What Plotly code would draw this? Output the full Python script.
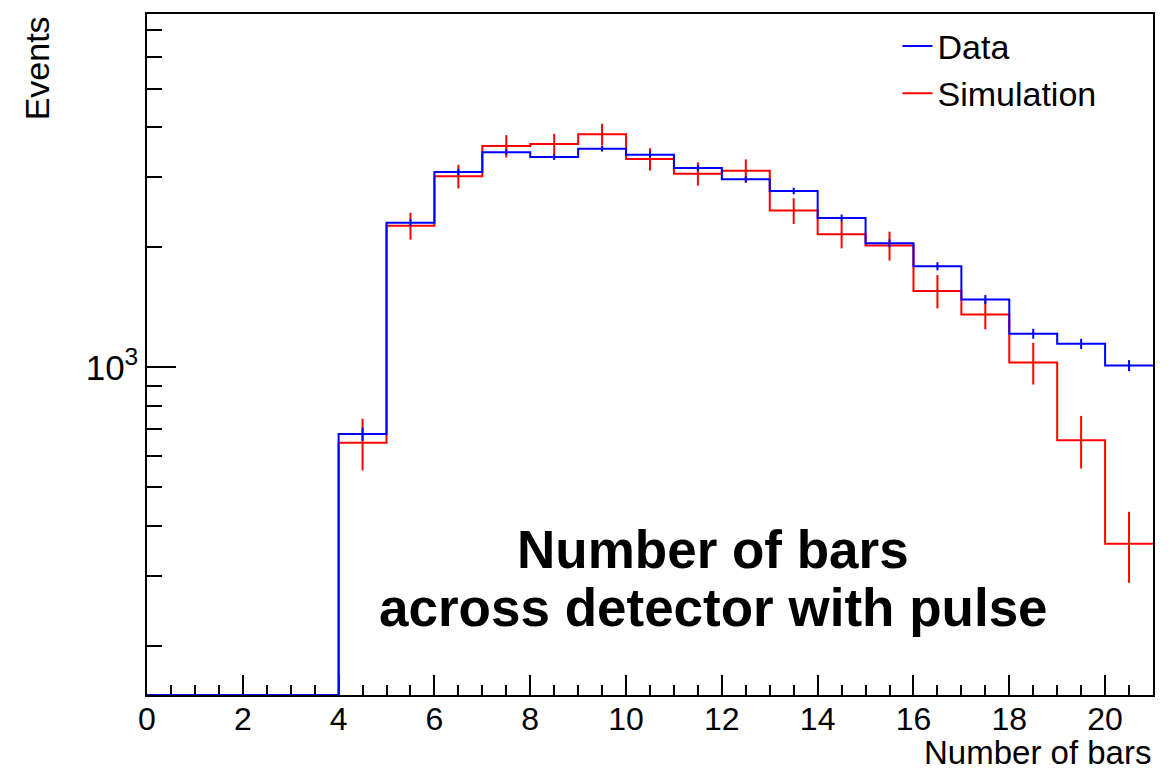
import numpy as np
import plotly.graph_objects as go

# Bin edges: number of bars, 0..21 in unit bins
bin_edges = list(range(0, 22))

# Measured data (counts per bin) and their uncertainties
data_counts = [0, 0, 0, 0, 680, 2305, 3089, 3462, 3369, 3534, 3413, 3161, 2962,
               2768, 2367, 2048, 1792, 1479, 1214, 1145, 1010]
data_errors = [0, 0, 0, 0, 26, 48, 56, 59, 58, 59, 58, 56, 54,
               53, 49, 45, 42, 38, 35, 34, 32]

# Simulation prediction (normalised) and its uncertainties
sim_counts = [0, 0, 0, 0, 647, 2265, 3013, 3590, 3631, 3841, 3330, 3059, 3112,
              2471, 2155, 2020, 1554, 1357, 1028, 656, 361]
sim_errors = [0, 0, 0, 0, 96, 175, 205, 231, 219, 240, 214, 205, 210,
              183, 168, 168, 149, 112, 123, 99, 73]

# Log-scale y range (decades)
y_log_min = 2.178
y_log_max = 3.886
floor_value = 10 ** y_log_min

major_y = [1000]
major_y_text = ["10<sup>3</sup>"]
minor_y = [200, 300, 400, 500, 600, 700, 800, 900,
           2000, 3000, 4000, 5000, 6000, 7000]

FONT = "Liberation Sans, Arial, Helvetica, sans-serif"
BLUE = "#0000ff"
RED = "#ff0000"


def step_xy(values):
    """Histogram outline: left edges plus the final edge, empty bins at the floor."""
    ys = [v if v > 0 else floor_value for v in values]
    return bin_edges, ys + [ys[-1]]


centers = [0.5 * (bin_edges[i] + bin_edges[i + 1]) for i in range(len(data_counts))]

fig = go.Figure()

# Outlines
sx, sy = step_xy(sim_counts)
fig.add_trace(go.Scatter(x=sx, y=sy, mode="lines", line=dict(color=RED, width=2, shape="hv"),
                         name="Simulation", legendrank=2))
dx, dy = step_xy(data_counts)
fig.add_trace(go.Scatter(x=dx, y=dy, mode="lines", line=dict(color=BLUE, width=2, shape="hv"),
                         name="Data", legendrank=1))

# Vertical error bars at the bin centres (filled bins only)
filled = [i for i, v in enumerate(sim_counts) if v > 0]
fig.add_trace(go.Scatter(
    x=[centers[i] for i in filled], y=[sim_counts[i] for i in filled], mode="markers",
    marker=dict(size=1, color=RED, opacity=0),
    error_y=dict(type="data", array=[sim_errors[i] for i in filled],
                 color=RED, thickness=2, width=0),
    showlegend=False, hoverinfo="skip"))
filled_d = [i for i, v in enumerate(data_counts) if v > 0]
fig.add_trace(go.Scatter(
    x=[centers[i] for i in filled_d], y=[data_counts[i] for i in filled_d], mode="markers",
    marker=dict(size=1, color=BLUE, opacity=0),
    error_y=dict(type="data", array=[data_errors[i] for i in filled_d],
                 color=BLUE, thickness=2, width=0),
    showlegend=False, hoverinfo="skip"))

fig.update_layout(
    width=1176, height=771,
    margin=dict(l=147, r=23, t=14, b=76),
    paper_bgcolor="white", plot_bgcolor="white",
    font=dict(family=FONT, color="black", size=32),
    showlegend=True,
    legend=dict(x=0.746, y=0.995, xanchor="left", yanchor="top",
                bgcolor="rgba(0,0,0,0)", borderwidth=0,
                font=dict(family=FONT, size=34, color="black"),
                traceorder="normal"),
    xaxis=dict(range=[0, 21], showgrid=False, zeroline=False,
               showline=True, mirror=True, linecolor="black", linewidth=1.5,
               ticks="inside", ticklen=20, tickwidth=1.5, tickcolor="black",
               tickmode="linear", tick0=0, dtick=2,
               minor=dict(ticks="inside", ticklen=10, tickwidth=1.5, tickcolor="black",
                          tick0=0, dtick=0.5, showgrid=False),
               tickfont=dict(family=FONT, size=32, color="black"),
               ticklabelstandoff=-5,
               layer="below traces"),
    yaxis=dict(type="log", range=[y_log_min, y_log_max], showgrid=False, zeroline=False,
               showline=True, mirror=True, linecolor="black", linewidth=1.5,
               ticks="inside", ticklen=29, tickwidth=1.5, tickcolor="black",
               tickmode="array", tickvals=major_y, ticktext=major_y_text,
               minor=dict(ticks="inside", ticklen=15, tickwidth=1.5, tickcolor="black",
                          tickmode="array", tickvals=minor_y, showgrid=False),
               tickfont=dict(family=FONT, size=35, color="black"),
               layer="below traces"),
)

# Axis titles
fig.add_annotation(text="Events", xref="paper", yref="paper", x=-0.109, y=1.0,
                   xanchor="center", yanchor="top", textangle=-90, showarrow=False,
                   font=dict(family=FONT, size=34, color="black"))
fig.add_annotation(text="Number of bars", xref="paper", yref="paper", x=1.0,
                   y=1 - (752 - 14) / 681,
                   xanchor="right", yanchor="middle", showarrow=False,
                   font=dict(family=FONT, size=33, color="black"))

# Plot label
fig.add_annotation(text="<b>Number of bars</b>", xref="paper", yref="paper",
                   x=0.563, y=1 - (549 - 14) / 681, xanchor="center", yanchor="middle",
                   showarrow=False, font=dict(family=FONT, size=53, color="black"))
fig.add_annotation(text="<b>across detector with pulse</b>", xref="paper", yref="paper",
                   x=0.563, y=1 - (607 - 14) / 681, xanchor="center", yanchor="middle",
                   showarrow=False, font=dict(family=FONT, size=53, color="black"))

fig.write_html("out.html")
